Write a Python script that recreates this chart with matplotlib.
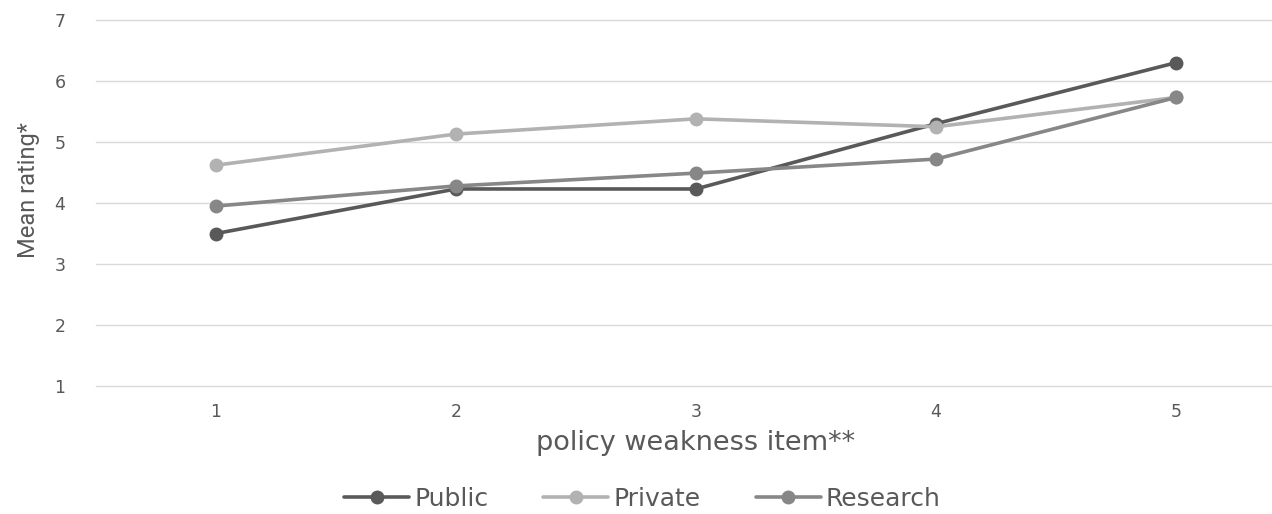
import matplotlib
matplotlib.use('Agg')
import matplotlib.pyplot as plt

# mean ratings per group for each policy weakness item
items = [1, 2, 3, 4, 5]
public = [3.50, 4.23, 4.23, 5.30, 6.30]
private = [4.62, 5.13, 5.38, 5.25, 5.73]
research = [3.95, 4.28, 4.49, 4.72, 5.73]

series = [
    ('Public', public, '#595959'),
    ('Private', private, '#b2b2b2'),
    ('Research', research, '#878787'),
]

TEXT = '#595959'
GRID = '#d9d9d9'

plt.rcParams['font.family'] = ['DejaVu Sans']

fig = plt.figure(figsize=(12.72, 5.14), dpi=100)
fig.patch.set_facecolor('white')
ax = fig.add_axes([96 / 1272, 128 / 514, 1 - 96 / 1272, 366 / 514])

for name, vals, col in series:
    ax.plot(items, vals, color=col, lw=2.6, marker='o', ms=9,
            mec=col, mfc=col, label=name, solid_capstyle='round', zorder=3)

ax.set_xlim(0.5, 5.4)
ax.set_ylim(1, 7)
ax.set_xticks(items)
ax.set_yticks(range(1, 8))
ax.grid(axis='y', color=GRID, lw=1.0, zorder=0)
for gl in ax.get_ygridlines():
    gl.set_clip_on(False)
for s in ax.spines.values():
    s.set_visible(False)
ax.tick_params(length=0, colors=TEXT, labelsize=12.5)
ax.tick_params(axis='y', pad=22)
ax.tick_params(axis='x', pad=12)

ax.set_xlabel('policy weakness item**', fontsize=19.5, color=TEXT)
ax.xaxis.set_label_coords((696 - 96) / 1176, (386 - 430) / 366)
ax.set_ylabel('Mean rating*', fontsize=17, color=TEXT, family=['Roboto'])
ax.yaxis.set_label_coords((40 - 96) / 1176, (386 - 190) / 366)

fig.legend(loc='center', bbox_to_anchor=(0.505, 0.03), ncol=3, frameon=False,
           fontsize=18, labelcolor=TEXT, handlelength=2.6, handletextpad=0.2,
           columnspacing=2.2)

fig.savefig('out.png', dpi=100, facecolor='white')
